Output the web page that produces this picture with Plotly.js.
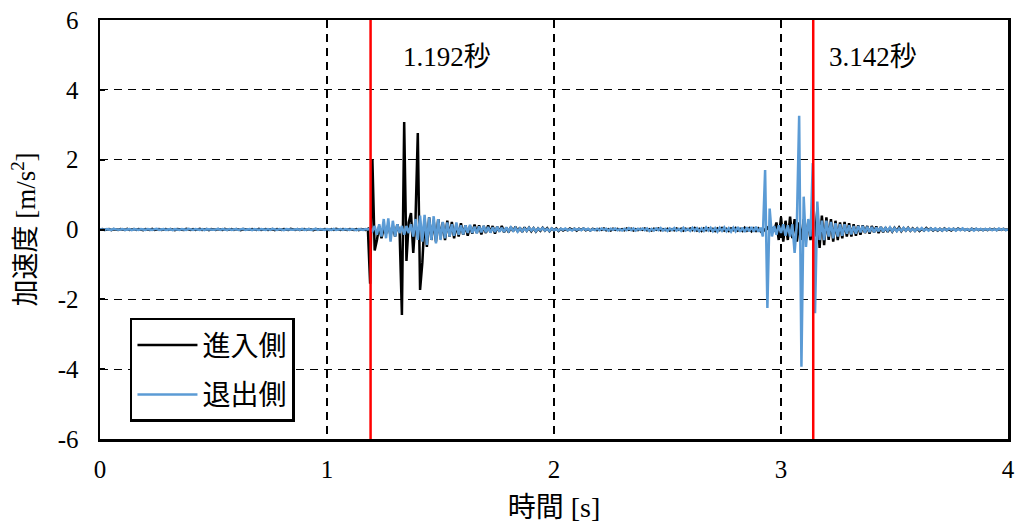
<!DOCTYPE html>
<html>
<head>
<meta charset="utf-8">
<script src="https://cdn.plot.ly/plotly-3.0.1.min.js"></script>
<style>html,body{margin:0;padding:0;background:#fff;}#chart{width:1018px;height:525px;}</style>
</head>
<body>
<div id="chart"></div>
<script>
// Sampling: t = 0 ... 4.00 s, step 0.01 s (401 samples)
const T_START = 0;
const T_STEP = 0.01;

const seriesNames = ["進入側", "退出側"];

// 進入側 acceleration [m/s^2]
const accelIn = [
0,0.01,-0.01,0,0.01,-0.02,0.01,0,-0.01,0.01,
0,-0.01,0.02,-0.01,0,0.01,-0.01,0.01,0,-0.02,
0.01,0,-0.01,0.02,-0.01,0,0.01,-0.01,0,0.01,
-0.01,0.01,0,-0.02,0.01,0,0.01,-0.01,0.02,0,
-0.01,0.01,-0.01,0,0.02,-0.01,0,0.01,-0.02,0.01,
0,-0.01,0.01,0,-0.01,0.02,-0.01,0,0.01,-0.01,
0.01,0,-0.02,0.01,0,0.01,-0.01,0.01,0,-0.01,
0.02,-0.01,0,0.01,-0.01,0,0.01,-0.02,0.01,0,
-0.01,0.01,0,-0.01,0.02,0,-0.01,0.01,-0.01,0,
0.01,-0.01,0.01,0,-0.02,0.01,0,0.01,-0.01,0.01,
0,-0.01,0.01,-0.01,0.02,0,-0.01,0.01,0,-0.01,
0.01,0,-0.01,0.01,-0.02,0.01,0,-0.01,0.02,-1.55,
2.0,-0.6,-0.3,0.1,-0.25,0.05,-0.12,0.15,-0.18,0.1,
-0.2,0.15,-0.1,-2.45,3.08,-0.9,0.2,0.47,-0.67,0.3,
2.76,-1.73,-0.95,0.3,-0.5,0.35,-0.3,0.25,-0.35,0.3,
-0.25,0.2,-0.3,0.25,-0.2,0.22,-0.25,0.15,-0.2,0.18,
-0.15,0.12,-0.18,0.1,-0.12,0.14,-0.1,0.12,-0.14,0.1,
-0.1,0.12,-0.08,0.1,-0.12,0.08,-0.06,0.1,-0.08,0.06,
-0.08,0.07,-0.05,0.08,-0.06,0.05,-0.07,0.06,-0.04,0.05,
-0.05,0.04,-0.06,0.03,-0.04,0.05,-0.03,0.04,-0.05,0.03,
-0.02,0.03,-0.04,0.02,-0.03,0.01,-0.02,0.03,-0.01,0.02,
-0.03,0.02,-0.01,0.03,-0.02,0.01,-0.03,0.02,0,-0.02,
0.02,-0.01,0.03,-0.02,0.01,-0.03,0.02,-0.01,0.02,-0.02,
0.01,-0.02,0.03,-0.01,0.02,-0.03,0.01,-0.02,0.02,-0.01,
0.03,-0.02,0.01,-0.03,0.02,-0.01,0.03,-0.02,0.01,-0.02,
0.02,-0.03,0.01,-0.02,0.03,-0.01,0.02,-0.03,0.02,-0.01,
0.03,-0.02,0.04,-0.03,0.02,-0.04,0.03,-0.02,0.03,-0.03,
0.02,-0.04,0.03,-0.02,0.04,-0.03,0.02,-0.04,0.03,-0.02,
0.04,-0.03,0.02,-0.04,0.05,-0.03,0.04,-0.05,0.03,-0.04,
0.03,-0.05,0.04,-0.03,0.05,-0.04,0.03,-0.05,0.2,-0.3,
0.35,-0.35,0.25,-0.3,0.37,-0.25,0.3,-0.35,0.2,-0.3,
0.3,-0.25,0.2,-0.3,0.25,-0.2,0.56,-0.53,0.4,-0.45,
0.35,-0.3,0.3,-0.35,0.25,-0.3,0.2,-0.25,0.22,-0.2,
0.18,-0.2,0.15,-0.18,0.12,-0.15,0.12,-0.1,0.1,-0.12,
0.1,-0.08,0.09,-0.1,0.07,-0.08,0.06,-0.07,0.05,-0.06,
0.05,-0.04,0.06,-0.05,0.04,-0.03,0.05,-0.04,0.03,-0.04,
0.03,-0.04,0.02,-0.03,0.04,-0.02,0.03,-0.03,0.02,-0.03,
0.02,-0.03,0.03,-0.02,0.01,-0.03,0.02,-0.02,0.03,-0.01,
0.02,-0.02,0.01,-0.03,0.02,-0.01,0.02,-0.02,0.01,-0.02,
0.01,-0.02,0.02,-0.01,0.02,-0.02,0.01,-0.01,0.02,-0.01,
0
];

// 退出側 acceleration [m/s^2]
const accelOut = [
0.01,0,-0.01,0.01,0,-0.01,0.02,0,-0.01,0,
0.01,-0.01,0,0.01,-0.02,0.01,0,-0.01,0.01,0,
-0.01,0.01,0,-0.01,0.01,0.02,-0.01,0,0.01,-0.01,
0,0.01,-0.02,0.01,0,-0.01,0.01,0,-0.01,0.02,
0,-0.01,0.01,0,-0.01,0.01,-0.02,0.01,0,0.01,
-0.01,0,0.02,-0.01,0.01,0,-0.01,0.01,-0.01,0,
0.01,-0.01,0,0.02,-0.01,0,0.01,-0.02,0.01,0,
-0.01,0.01,0,-0.01,0.01,-0.01,0.02,0,-0.01,0.01,
0,-0.02,0.01,0,0.01,-0.01,0,0.01,-0.01,0.02,
-0.01,0,0.01,-0.01,0,0.02,-0.01,0.01,0,-0.01,
0.01,0,-0.01,0.02,-0.01,0,0.01,-0.01,0.01,0,
-0.01,0.01,0,-0.02,0.01,0,-0.01,0.01,0,0.02,
-0.05,0.1,-0.15,0.15,-0.2,0.3,-0.25,0.32,-0.35,0.25,
-0.2,0.15,-0.1,0.1,-0.15,0.1,-0.1,0.15,-0.2,0.3,
-0.3,0.4,-0.35,0.42,-0.44,0.35,-0.3,0.38,-0.4,0.3,
-0.3,0.22,-0.25,0.2,-0.2,0.15,-0.18,0.2,-0.15,0.12,
-0.14,0.12,-0.1,0.13,-0.1,0.08,-0.11,0.09,-0.08,0.1,
-0.08,0.07,-0.09,0.06,-0.07,0.08,-0.06,0.05,-0.07,0.06,
-0.05,0.06,-0.04,0.05,-0.06,0.04,-0.05,0.03,-0.04,0.05,
-0.03,0.04,-0.05,0.03,-0.02,0.04,-0.03,0.02,-0.04,0.03,
-0.02,0.01,-0.03,0.02,-0.01,0.03,-0.02,0.01,-0.03,0.02,
-0.01,0.02,-0.02,0.03,-0.01,0.02,-0.03,0.01,-0.02,0.02,
-0.02,0.03,-0.01,0.02,-0.03,0.02,-0.01,0.03,-0.02,0.01,
-0.03,0.02,-0.02,0.04,-0.02,0.03,-0.03,0.02,-0.01,0.03,
-0.02,0.03,-0.04,0.02,-0.03,0.03,-0.02,0.04,-0.03,0.02,
-0.04,0.03,-0.02,0.04,-0.03,0.02,-0.04,0.05,-0.03,0.02,
-0.04,0.05,-0.03,0.04,-0.05,0.03,-0.04,0.06,-0.03,0.05,
-0.05,0.04,-0.06,0.05,-0.04,0.06,-0.05,0.04,-0.06,0.05,
-0.05,0.07,-0.06,0.05,-0.07,0.06,-0.05,0.07,-0.06,0.08,
-0.06,0.05,-0.2,1.7,-2.25,0.6,-0.2,0.1,-0.15,0.12,
-0.1,0.15,-0.18,0.12,-0.2,0.15,-0.67,0.2,3.26,-3.93,
0.94,-0.5,0.3,-0.2,1.9,-2.4,0.8,-0.3,0.25,-0.3,
0.25,-0.2,0.22,-0.25,0.18,-0.2,0.15,-0.18,0.15,-0.12,
0.12,-0.14,0.1,-0.12,0.1,-0.08,0.1,-0.09,0.08,-0.07,
0.07,-0.08,0.06,-0.05,0.07,-0.06,0.05,-0.04,0.06,-0.05,
0.04,-0.05,0.03,-0.04,0.05,-0.03,0.04,-0.03,0.02,-0.04,
0.03,-0.02,0.04,-0.03,0.02,-0.03,0.03,-0.02,0.03,-0.02,
0.02,-0.03,0.02,-0.02,0.03,-0.01,0.02,-0.03,0.02,-0.02,
0.03,-0.02,0.01,-0.02,0.02,-0.03,0.02,-0.01,0.02,-0.02,
0.02,-0.01,0.02,-0.02,0.01,-0.02,0.03,-0.01,0.02,-0.02,
0
];

// Marker times [s]
const markerTimes = [1.192, 3.142];
const markerLabels = ["1.192秒", "3.142秒"];

const xTicks = [0, 1, 2, 3, 4];
const yTicks = [-6, -4, -2, 0, 2, 4, 6];

const FONT = 'Liberation Serif, Noto Sans CJK JP, serif';

const traces = [
  {
    type: 'scatter', mode: 'lines', name: seriesNames[0],
    x0: T_START, dx: T_STEP, y: accelIn,
    line: {color: '#000000', width: 2.5},
    legendgroup: 'a'
  },
  {
    type: 'scatter', mode: 'lines', name: seriesNames[1],
    x0: T_START, dx: T_STEP, y: accelOut,
    line: {color: '#5B9BD5', width: 2.5},
    legendgroup: 'b'
  }
];

const shapes = markerTimes.map(t => ({
  type: 'line', xref: 'x', yref: 'y', x0: t, x1: t, y0: -6, y1: 6,
  line: {color: '#FF0000', width: 2.5}, layer: 'above'
}));

const annotations = markerTimes.map((t, i) => ({
  x: i === 0 ? 1.53 : 3.405, y: 4.95, xref: 'x', yref: 'y',
  text: markerLabels[i], showarrow: false, xanchor: 'center', yanchor: 'middle',
  font: {family: FONT, size: 27, color: '#000'}
}));

const layout = {
  width: 1018, height: 525,
  margin: {l: 100, r: 10, t: 20, b: 86},
  paper_bgcolor: '#fff', plot_bgcolor: '#fff',
  font: {family: FONT, size: 25, color: '#000'},
  showlegend: true,
  legend: {
    x: 0.033, y: 0.289, xanchor: 'left', yanchor: 'top',
    bgcolor: '#fff', bordercolor: '#000', borderwidth: 2.5,
    font: {family: FONT, size: 28, color: '#000'},
    tracegroupgap: 10, itemwidth: 60
  },
  xaxis: {
    range: [0, 4], tickvals: xTicks, ticktext: xTicks.map(String),
    showgrid: true, gridcolor: '#000', gridwidth: 1.3, griddash: '8px,6px',
    zeroline: false, showline: true, linecolor: '#000', linewidth: 2.5, mirror: true,
    ticks: '', ticklabelstandoff: 6,
    tickfont: {family: FONT, size: 25},
    title: {text: '時間 [s]', font: {family: FONT, size: 28}, standoff: 16}
  },
  yaxis: {
    range: [-6, 6], tickvals: yTicks, ticktext: yTicks.map(String),
    showgrid: true, gridcolor: '#000', gridwidth: 1.3, griddash: '8px,6px',
    zeroline: false, showline: true, linecolor: '#000', linewidth: 2.5, mirror: true,
    ticks: 'inside', ticklen: 5, tickcolor: '#000', tickwidth: 2,
    ticklabelstandoff: 14,
    tickfont: {family: FONT, size: 25},
    title: {text: '加速度 [m/s<sup>2</sup>]', font: {family: FONT, size: 27}, standoff: 14}
  },
  shapes: shapes,
  annotations: annotations
};

Plotly.newPlot('chart', traces, layout, {displayModeBar: false, staticPlot: true});
</script>
</body>
</html>
